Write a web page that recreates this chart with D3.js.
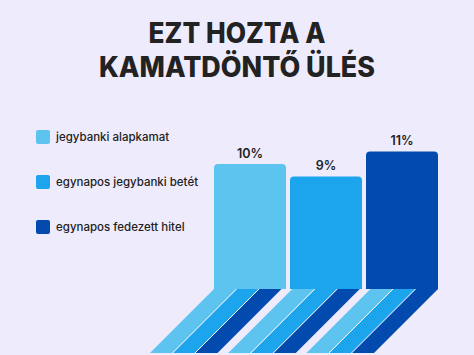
<!DOCTYPE html>
<html>
<head>
<meta charset="utf-8">
<script src="https://cdn.jsdelivr.net/npm/d3@7"></script>
<style>
  body { margin: 0; background: #eeebfd; }
  svg { display: block; font-family: Inter, "Open Sans", sans-serif; }
  .title { font-weight: 800; fill: #222222; }
  .legend { font-weight: 500; fill: #222222; }
  .value { font-weight: 600; fill: #222222; }
</style>
</head>
<body>
<svg id="chart" width="474" height="355"></svg>
<script>
const titleLines = ["EZT HOZTA A", "KAMATDÖNTŐ ÜLÉS"];
const titleWidths = [177, 276];
const categories = ["jegybanki alapkamat", "egynapos jegybanki betét", "egynapos fedezett hitel"];
const values = [10, 9, 11];
const labels = ["10%", "9%", "11%"];
const colors = ["#5dc4ef", "#1ca4ed", "#024aad"];

let svg = d3.select("#chart");
svg.append("rect").attr("width", 474).attr("height", 355).attr("fill", "#eeebfd");

// title
svg.selectAll(".title").data(titleLines).join("text")
    .attr("class", "title")
    .attr("x", 237).attr("y", (d, i) => 43 + i * 34)
    .attr("text-anchor", "middle")
    .attr("font-size", "28px")
    .attr("textLength", (d, i) => titleWidths[i])
    .attr("lengthAdjust", "spacingAndGlyphs")
    .text(d => d);

// scales
let xScale = d3.scaleBand().domain(categories).range([214, 438]).paddingInner(4 / 76);
let yScale = d3.scaleLinear().domain([0, 11]).range([289, 151.5]);

// bars, rounded top corners only
function barPath(x, y, w, h, r) {
    return "M" + x + "," + (y + h) + "V" + (y + r) + "Q" + x + "," + y + " " + (x + r) + "," + y
        + "H" + (x + w - r) + "Q" + (x + w) + "," + y + " " + (x + w) + "," + (y + r)
        + "V" + (y + h) + "Z";
}
svg.selectAll(".bar").data(categories).join("path")
    .attr("class", "bar")
    .attr("fill", (d, i) => colors[i])
    .attr("d", (d, i) => barPath(xScale(d), yScale(values[i]), xScale.bandwidth(), yScale(0) - yScale(values[i]), 4));

svg.selectAll(".value").data(categories).join("text")
    .attr("class", "value")
    .attr("x", d => xScale(d) + xScale.bandwidth() / 2)
    .attr("y", (d, i) => yScale(values[i]) - 6.5)
    .attr("text-anchor", "middle")
    .attr("font-size", "12.5px")
    .text((d, i) => labels[i]);

// diagonal stripes under the bars
let groupScale = d3.scaleBand().domain(categories).range([214, 438]).paddingInner(0.137);
let stripeScale = d3.scaleBand().domain(colors).range([0, groupScale.bandwidth()]);
let drop = 64;
let y0 = yScale(0);
let stripes = [];
categories.forEach(c => {
    colors.forEach((col, j) => {
        stripes.push({x: groupScale(c) + stripeScale(col), w: stripeScale.bandwidth(), color: col, j: j});
    });
});
let line = d3.line();
svg.selectAll(".stripe").data(stripes).join("path")
    .attr("class", "stripe")
    .attr("fill", d => d.color)
    .attr("d", d => line([[d.x, y0], [d.x + d.w, y0], [d.x + d.w - drop, y0 + drop], [d.x - drop, y0 + drop]]) + "Z");
svg.selectAll(".sep").data(stripes.filter(d => d.j > 0)).join("line")
    .attr("class", "sep")
    .attr("x1", d => d.x).attr("y1", y0)
    .attr("x2", d => d.x - drop).attr("y2", y0 + drop)
    .attr("stroke", "#ffffff").attr("stroke-width", 1);

// legend
let legend = svg.selectAll(".leg").data(categories).join("g")
    .attr("class", "leg")
    .attr("transform", (d, i) => "translate(36," + (130 + i * 45) + ")");
legend.append("rect").attr("width", 14).attr("height", 14).attr("rx", 2)
    .attr("fill", (d, i) => colors[i]);
legend.append("text").attr("class", "legend")
    .attr("x", 20).attr("y", 10.5)
    .attr("font-size", "11.5px")
    .text(d => d);
</script>
</body>
</html>
